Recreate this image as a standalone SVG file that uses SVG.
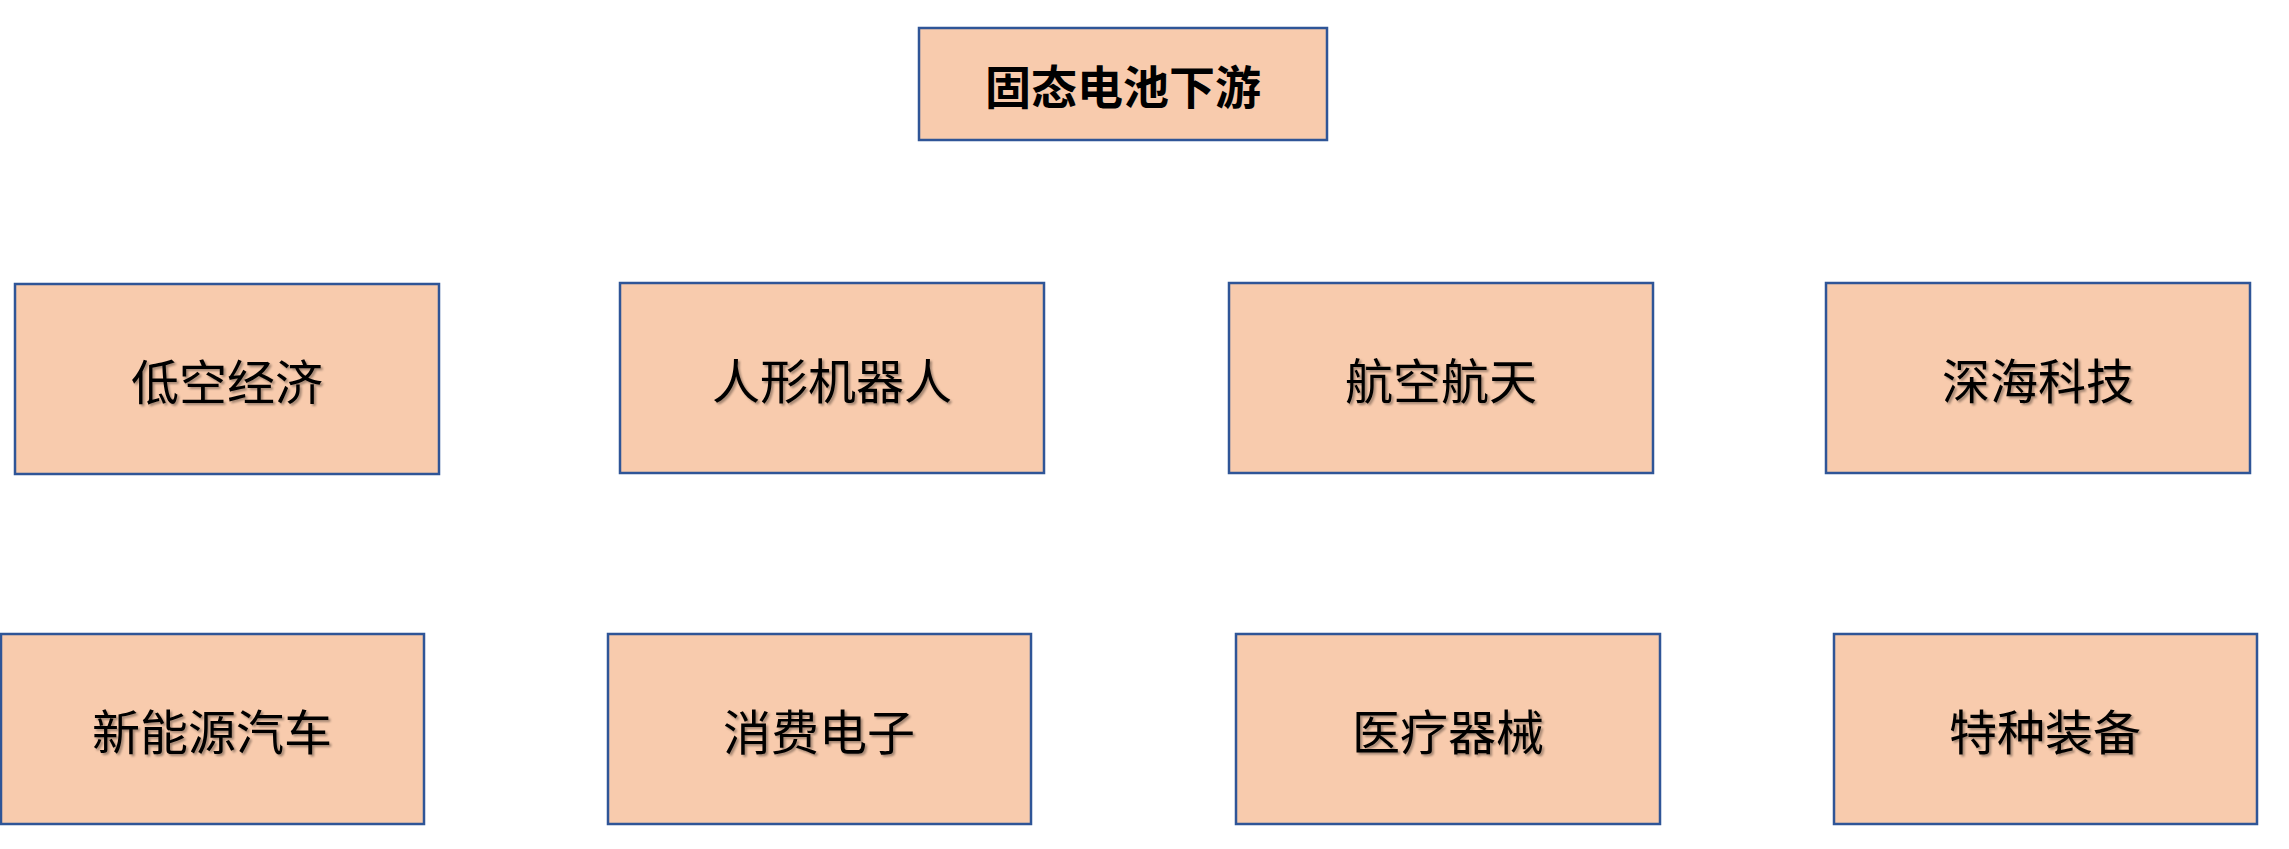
<svg xmlns="http://www.w3.org/2000/svg" width="2289" height="849" viewBox="0 0 2289 849">
<defs>
<filter id="sh" x="-10%" y="-10%" width="120%" height="130%"><feDropShadow dx="2" dy="2" stdDeviation="1" flood-color="#000" flood-opacity="0.35"/></filter>
</defs>
<style>
.b{fill:#F8CBAD;stroke:#2F5597;stroke-width:2.5}
.t{font-family:"Noto Sans CJK SC",sans-serif;font-size:48px;fill:#000;text-anchor:middle;dominant-baseline:central;filter:url(#sh)}
.h{font-weight:bold;font-size:46px;filter:none}
</style>
<rect width="2289" height="849" fill="#fff"/>
<g id="top"><rect class="b" x="919" y="28" width="408" height="112"/><text class="t h" x="1123" y="84">固态电池下游</text></g>
<g id="n1"><rect class="b" x="15" y="284" width="424" height="190"/><text class="t" x="227" y="379">低空经济</text></g>
<g id="n2"><rect class="b" x="620" y="283" width="424" height="190"/><text class="t" x="832" y="378">人形机器人</text></g>
<g id="n3"><rect class="b" x="1229" y="283" width="424" height="190"/><text class="t" x="1441" y="378">航空航天</text></g>
<g id="n4"><rect class="b" x="1826" y="283" width="424" height="190"/><text class="t" x="2038" y="378">深海科技</text></g>
<g id="n5"><rect class="b" x="1" y="634" width="423" height="190"/><text class="t" x="212" y="729">新能源汽车</text></g>
<g id="n6"><rect class="b" x="608" y="634" width="423" height="190"/><text class="t" x="819" y="729">消费电子</text></g>
<g id="n7"><rect class="b" x="1236" y="634" width="424" height="190"/><text class="t" x="1448" y="729">医疗器械</text></g>
<g id="n8"><rect class="b" x="1834" y="634" width="423" height="190"/><text class="t" x="2045" y="729">特种装备</text></g>
<g id="connectors"/>
</svg>
